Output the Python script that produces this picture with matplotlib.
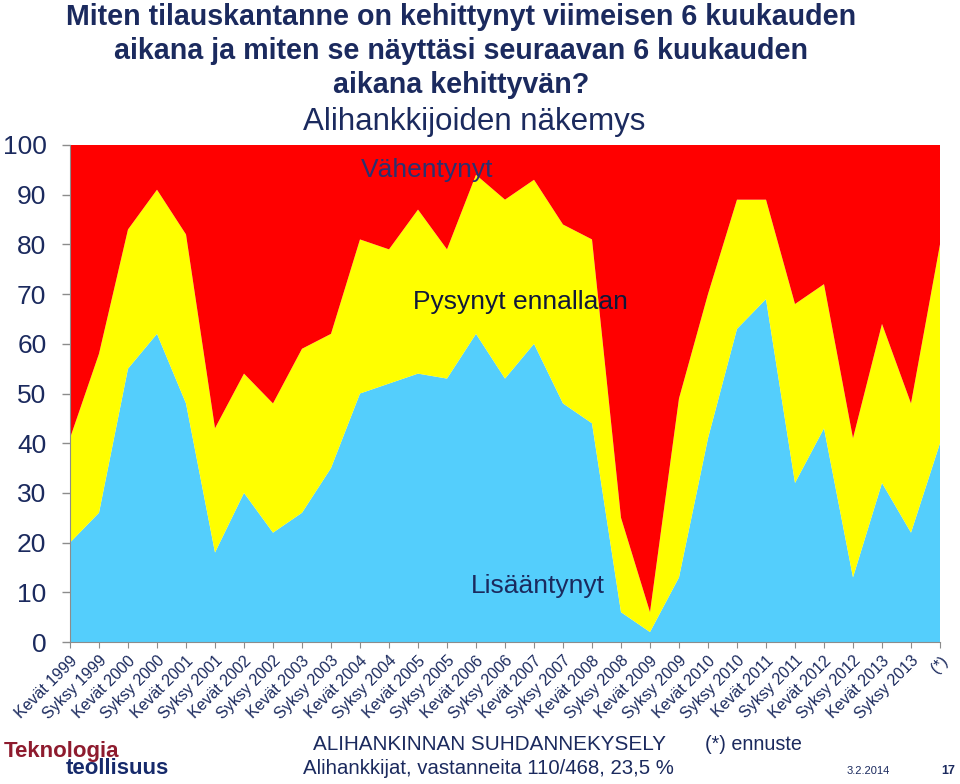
import matplotlib.pyplot as plt
import numpy as np

plt.rcParams['font.family'] = ['Liberation Sans', 'DejaVu Sans']

# kaudet
kaudet = []
for v in range(1999, 2014):
    kaudet.append('Kevät %d' % v)
    kaudet.append('Syksy %d' % v)
kaudet.append('(*)')

# Lisääntynyt (%)
lisaantynyt = [20, 26, 55, 62, 48, 18, 30, 22, 26, 35, 50, 52, 54, 53, 62, 53,
               60, 48, 44, 6, 2, 13, 41, 63, 69, 32, 43, 13, 32, 22, 40]
# Lisääntynyt + pysynyt ennallaan (%)
ei_vahentynyt = [41, 58, 83, 91, 82, 43, 54, 48, 59, 62, 81, 79, 87, 79, 94, 89,
                 93, 84, 81, 25, 6, 49, 70, 89, 89, 68, 72, 41, 64, 48, 80]

pysynyt = [b - a for a, b in zip(lisaantynyt, ei_vahentynyt)]
vahentynyt = [100 - b for b in ei_vahentynyt]

navy = '#1B2A5E'
x = np.arange(len(kaudet))

fig = plt.figure(figsize=(9.6, 7.84), dpi=100)
ax = fig.add_axes([70 / 960, 1 - 642 / 784, 870 / 960, 497 / 784])

ax.stackplot(x, lisaantynyt, pysynyt, vahentynyt,
             colors=['#54CEFC', '#FFFF00', '#FF0000'], linewidth=0)

ax.set_xlim(0, len(kaudet) - 1)
ax.set_ylim(0, 100)
ax.set_yticks(range(0, 101, 10))
ax.tick_params(axis='y', labelsize=19, labelcolor=navy, color='#8C8C8C',
               length=6, width=1, pad=11)
ax.set_xticks(x)
ax.set_xticklabels(kaudet, rotation=45, ha='right', rotation_mode='anchor',
                   fontsize=11.5, color=navy)
ax.tick_params(axis='x', color='#8C8C8C', length=4, pad=4)
for s in ['top', 'right']:
    ax.spines[s].set_visible(False)
for s in ['left', 'bottom']:
    ax.spines[s].set_color('#8C8C8C')

# sarjojen nimet kuvan sisällä
ax.text(12.31, 95.0, 'Vähentynyt', fontsize=19, color='#2A3270', ha='center', va='center')
ax.text(15.52, 68.4, 'Pysynyt ennallaan', fontsize=19, color='#10183A',
        ha='center', va='center')
ax.text(16.14, 11.3, 'Lisääntynyt', fontsize=19, color=navy, ha='center', va='center')

# otsikko
otsikko = ['Miten tilauskantanne on kehittynyt viimeisen 6 kuukauden',
           'aikana ja miten se näyttäsi seuraavan 6 kuukauden',
           'aikana kehittyvän?']
for i, rivi in enumerate(otsikko):
    fig.text(461 / 960, 1 - (17 + 34 * i) / 784, rivi, ha='center', va='center',
             fontsize=20.6, fontweight='bold', color=navy)
fig.text(474 / 960, 1 - 122 / 784, 'Alihankkijoiden näkemys', ha='center',
         va='center', fontsize=22.5, color=navy)

# alaosan tekstit
fig.text(490 / 960, 1 - 745 / 784, 'ALIHANKINNAN SUHDANNEKYSELY', ha='center',
         va='center', fontsize=14.9, color=navy)
fig.text(705 / 960, 1 - 745 / 784, '(*) ennuste', ha='left', va='center',
         fontsize=14.2, color=navy)
fig.text(488 / 960, 1 - 769 / 784, 'Alihankkijat, vastanneita 110/468, 23,5 %',
         ha='center', va='center', fontsize=14.7, color=navy)
fig.text(868 / 960, 1 - 771 / 784, '3.2.2014', ha='center', va='center',
         fontsize=8, color=navy)
fig.text(955 / 960, 1 - 771 / 784, '17', ha='right', va='center',
         fontsize=9, fontweight='bold', color=navy)

# logo
fig.text(4 / 960, 1 - 751 / 784, 'Teknologia', ha='left', va='center',
         fontsize=16, fontweight='heavy', color='#8E1B2E')
fig.text(66 / 960, 1 - 768 / 784, 'teollisuus', ha='left', va='center',
         fontsize=16, fontweight='heavy', color='#162A6B')

fig.savefig('out.png', dpi=100)
